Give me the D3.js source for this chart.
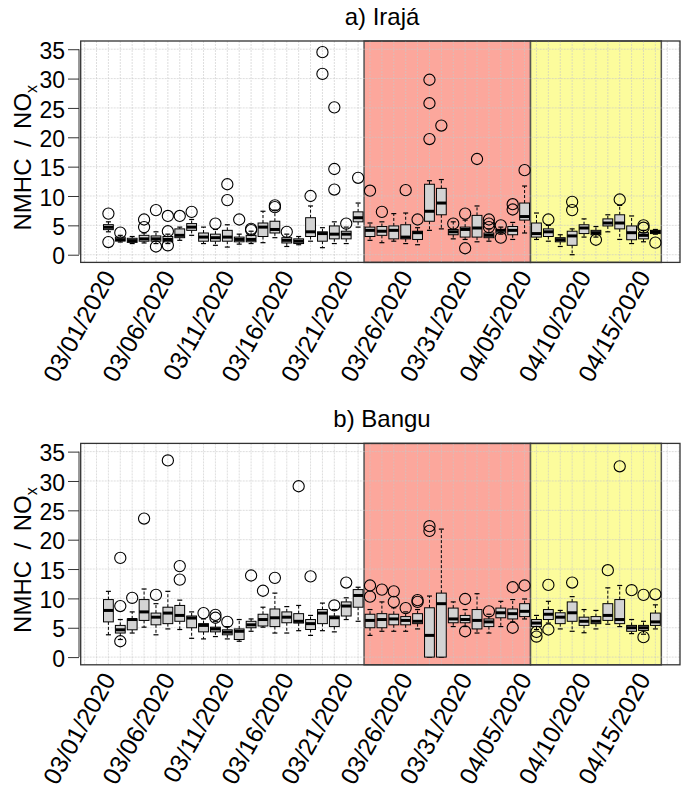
<!DOCTYPE html>
<html><head><meta charset="utf-8">
<script src="https://cdn.jsdelivr.net/npm/d3@7"></script>
<style>body{margin:0;background:#fff}svg{display:block}text{font-family:"Liberation Sans",Arial,sans-serif;fill:#000}</style>
</head><body><svg id="c" width="689" height="793"></svg>
<script>
const days = ["03/01","03/02","03/03","03/04","03/05","03/06","03/07","03/08","03/09","03/10","03/11","03/12","03/13","03/14","03/15","03/16","03/17","03/18","03/19","03/20","03/21","03/22","03/23","03/24","03/25","03/26","03/27","03/28","03/29","03/30","03/31","04/01","04/02","04/03","04/04","04/05","04/06","04/07","04/08","04/09","04/10","04/11","04/12","04/13","04/14","04/15","04/16"];
const tickLabels = ["03/01/2020","03/06/2020","03/11/2020","03/16/2020","03/21/2020","03/26/2020","03/31/2020","04/05/2020","04/10/2020","04/15/2020"];
const tickIdx = [0,5,10,15,20,25,30,35,40,45];
const yTicks = [0,5,10,15,20,25,30,35];
const redPeriod = [21.5, 35.5];
const yellowPeriod = [35.5, 46.5];

// Panel a) Irajá
const lowA  = [3.9,2.16,1.9,2.0,1.9,1.9,2.45,3.3,1.9,1.6,1.3,1.8,1.9,2.05,2.9,1.4,1.7,2.3,1.2,1.9,1.9,4.7, 2.45,2.05,2.3,1.9,1.7,4.15,4.4,2.7,2.6,2.2,2.3,3.5,2.6,3.7, 2.6,2.3,1.4,0.0,3.0,3.0,3.9,2.6,1.9,2.2,3.5];
const q1A   = [4.27,2.33,2.1,2.3,2.3,2.2,2.9,4.15,2.3,2.3,2.3,2.2,2.2,3.1,3.7,2.0,1.9,3.1,2.3,2.7,2.7,5.6, 3.1,3.3,2.7,2.7,2.6,5.7,6.8,3.4,3.0,3.0,2.9,3.7,3.4,5.9, 3.0,3.1,2.2,1.6,3.6,3.4,4.9,4.4,2.55,2.7,3.6];
const medA  = [4.67,2.56,2.4,2.7,2.7,2.6,3.3,4.7,3.0,2.9,3.0,2.6,2.6,4.7,4.3,2.45,2.3,3.9,3.6,3.5,3.5,6.3, 4.15,4.0,4.15,3.0,3.75,7.4,8.8,3.9,4.3,4.55,3.3,4.15,4.15,6.5, 3.6,3.9,2.55,3.2,4.55,3.75,5.4,5.4,3.75,3.3,3.9];
const q3A   = [5.12,3.0,2.8,3.3,3.2,3.1,4.4,5.3,3.7,3.5,4.15,3.0,3.3,5.4,5.7,2.9,2.7,6.3,3.9,4.9,4.0,7.3, 4.7,4.8,4.9,5.1,4.0,12.0,11.3,4.3,4.7,6.7,3.7,4.3,4.8,8.8, 5.4,4.4,2.9,4.0,5.1,4.15,6.1,6.8,4.9,3.75,4.15];
const highA = [5.6,3.3,3.1,3.7,3.9,3.5,4.7,6.0,4.7,4.3,5.1,3.5,4.0,7.4,7.6,3.5,3.1,8.3,4.6,5.6,4.7,8.8, 5.4,5.6,7.0,7.1,4.6,12.6,12.8,5.6,5.9,8.3,4.4,4.7,5.5,11.7, 7.1,5.0,3.4,4.4,6.1,4.8,6.8,8.4,6.6,4.15,4.3];
const outA  = [[7.0,2.16],[3.76],[],[6.0,4.7],[7.6,1.4],[6.6,4.0,1.6],[6.6],[7.3],[],[5.3],[12.0,9.3],[6.0],[4.4,4.2],[],[8.4,8.1],[3.9],[],[10.0],[34.5,30.8],[25.1,14.6,11.1],[5.3],[13.1],
  [10.9],[7.3],[],[11.0],[6.0],[29.8,25.8,19.7],[22.0],[5.3],[7.0,1.1],[16.3],[6.0,5.3,4.7],[5.0,2.9],[8.6,7.7],[14.4],
  [],[6.0],[],[9.0,7.6],[],[2.55],[],[9.4],[],[5.0,4.6],[2.05]];

// Panel b) Bangu
const lowB  = [3.8,3.0,4.1,5.1,3.8,4.8,4.7,3.2,3.1,3.5,3.1,2.7,4.4,5.1,4.1,4.1,4.5,3.7,4.5,4.3,6.4,6.1, 3.7,4.4,4.4,4.4,4.8,0.0,0.0,5.2,5.2,4.1,4.1,5.2,6.0,6.5, 4.7,5.8,4.8,4.4,4.15,4.8,5.6,5.2,4.0,3.9,4.8];
const q1B   = [6.0,4.1,4.65,6.25,5.5,5.7,6.1,5.0,4.3,4.3,3.8,3.0,5.0,5.3,5.2,5.85,5.8,4.7,5.7,5.2,7.0,8.5, 5.0,5.0,5.5,5.5,5.7,0.0,0.0,5.85,5.85,4.8,5.2,6.7,6.5,6.9, 5.2,6.4,5.7,6.1,5.4,5.7,6.25,5.7,4.4,4.55,5.4];
const medB  = [7.95,4.65,6.4,7.7,6.8,7.5,7.1,6.65,5.4,4.8,4.25,4.4,5.5,6.4,6.7,6.8,6.1,5.7,7.5,6.7,8.7,10.5, 6.25,6.4,6.5,6.25,6.1,3.7,9.1,6.5,6.4,6.25,6.0,7.55,7.4,7.8, 5.8,7.3,6.8,7.55,6.1,6.1,7.1,6.4,5.0,5.0,6.0];
const q3B   = [9.8,5.4,6.5,9.8,7.5,8.5,8.8,7.0,5.7,5.1,4.65,4.8,6.1,7.3,8.2,7.7,7.4,6.4,8.1,7.0,9.4,11.5, 7.3,7.4,7.3,6.9,7.4,8.4,10.9,8.35,7.1,8.1,6.5,8.35,8.2,9.1, 6.4,8.1,7.55,9.4,6.8,6.9,9.1,9.8,5.4,5.4,7.5];
const highB = [11.2,6.4,7.7,11.6,9.1,11.2,9.7,7.7,6.5,6.1,5.2,6.4,6.5,8.5,10.9,8.6,8.8,7.1,9.2,8.1,10.1,11.9, 8.1,9.4,8.4,7.7,8.1,10.4,21.8,9.4,8.1,10.8,7.3,9.5,9.8,9.9, 7.1,9.5,7.95,10.3,8.1,7.95,11.8,12.2,6.4,6.1,8.9];
const outB  = [[],[16.9,8.7,2.7],[10.1],[23.6],[10.6],[33.5],[15.5,13.2],[],[7.5],[7.2,6.7],[6.0],[],[13.9],[11.3],[13.5],[],[29.1],[13.75],[],[8.8],[12.7],[],
  [12.2,10.3],[11.5],[11.2,9.4],[8.35],[9.7,9.4],[22.3,21.5],[],[],[9.9,4.4],[],[7.8],[],[11.9,5.0],[12.2],
  [4.3,3.5],[12.3,4.7],[],[12.7],[],[],[14.8],[32.5],[11.4],[10.6,3.4],[10.7]];

const svg = d3.select("#c");
const x = d3.scaleLinear().domain([-2.33, 48.07]).range([80.7, 680]);
const boxW = 9.8, capW = 5, rOut = 5.6;

function panel(top, title, low, q1, med, q3, high, outs) {
  const plotTop = top, plotBot = top + 221.4;
  const y = d3.scaleLinear().domain([-1.31, 36.4]).range([plotBot, plotTop]);
  const g = svg.append("g");
  g.append("text").attr("x", 382).attr("y", plotTop - 16).attr("text-anchor", "middle")
    .attr("font-size", 24).text(title);
  // periods
  g.append("rect").attr("x", x(redPeriod[0])).attr("y", plotTop).attr("width", x(redPeriod[1]) - x(redPeriod[0]))
    .attr("height", plotBot - plotTop).attr("fill", "#fca79c").attr("stroke", "#555").attr("stroke-width", 1.5);
  g.append("rect").attr("x", x(yellowPeriod[0])).attr("y", plotTop).attr("width", x(yellowPeriod[1]) - x(yellowPeriod[0]))
    .attr("height", plotBot - plotTop).attr("fill", "#fcfc9c").attr("stroke", "#555").attr("stroke-width", 1.5);
  // grid
  const gx = d3.range(-2, 49);
  g.append("g").selectAll("line").data(gx).join("line")
    .attr("x1", d => x(d)).attr("x2", d => x(d)).attr("y1", plotTop).attr("y2", plotBot)
    .attr("stroke", "#c8c8c8").attr("stroke-opacity", 0.6).attr("stroke-width", 1).attr("stroke-dasharray", "2,1");
  g.append("g").selectAll("line").data(yTicks).join("line")
    .attr("x1", x.range()[0]).attr("x2", x.range()[1]).attr("y1", d => y(d)).attr("y2", d => y(d))
    .attr("stroke", "#c8c8c8").attr("stroke-opacity", 0.6).attr("stroke-width", 1).attr("stroke-dasharray", "2,1");
  // boxes
  const idx = d3.range(days.length);
  const bx = g.append("g").selectAll("g").data(idx).join("g");
  bx.append("line").attr("x1", i => x(i)).attr("x2", i => x(i)).attr("y1", i => y(q3[i])).attr("y2", i => y(high[i]))
    .attr("stroke", "#000").attr("stroke-width", 1).attr("stroke-dasharray", "3,2");
  bx.append("line").attr("x1", i => x(i)).attr("x2", i => x(i)).attr("y1", i => y(q1[i])).attr("y2", i => y(low[i]))
    .attr("stroke", "#000").attr("stroke-width", 1).attr("stroke-dasharray", "3,2");
  bx.append("line").attr("x1", i => x(i) - capW / 2).attr("x2", i => x(i) + capW / 2).attr("y1", i => y(high[i])).attr("y2", i => y(high[i]))
    .attr("stroke", "#000").attr("stroke-width", 1.2);
  bx.append("line").attr("x1", i => x(i) - capW / 2).attr("x2", i => x(i) + capW / 2).attr("y1", i => y(low[i])).attr("y2", i => y(low[i]))
    .attr("stroke", "#000").attr("stroke-width", 1.2);
  bx.append("rect").attr("x", i => x(i) - boxW / 2).attr("width", boxW)
    .attr("y", i => y(q3[i])).attr("height", i => Math.max(1, y(q1[i]) - y(q3[i])))
    .attr("fill", "#d3d3d3").attr("stroke", "#000").attr("stroke-width", 1);
  bx.append("line").attr("x1", i => x(i) - boxW / 2).attr("x2", i => x(i) + boxW / 2).attr("y1", i => y(med[i])).attr("y2", i => y(med[i]))
    .attr("stroke", "#000").attr("stroke-width", 3);
  bx.selectAll("circle").data(i => outs[i].map(v => [i, v])).join("circle")
    .attr("cx", d => x(d[0])).attr("cy", d => y(d[1])).attr("r", rOut)
    .attr("fill", "none").attr("stroke", "#000").attr("stroke-width", 1.1);
  // frame
  g.append("rect").attr("x", x.range()[0]).attr("y", plotTop).attr("width", x.range()[1] - x.range()[0])
    .attr("height", plotBot - plotTop).attr("fill", "none").attr("stroke", "#333").attr("stroke-width", 1.3);
  // y axis
  const ya = g.append("g").attr("transform", "translate(79,0)")
    .call(d3.axisLeft(y).tickValues(yTicks).tickSize(11).tickPadding(3).tickFormat(d3.format("d")));
  ya.select(".domain").attr("d", `M0,${y(35)}V${y(0)}`).attr("stroke", "#333");
  ya.selectAll(".tick line").attr("stroke", "#333");
  ya.selectAll(".tick text").attr("font-size", 23).attr("fill", "#000").attr("dy", "0.4em")
    .style("font-family", '"Liberation Sans",Arial,sans-serif');
  // y label
  const yl = g.append("text").attr("transform", `translate(31,${(plotTop + plotBot) / 2 + 6}) rotate(-90)`)
    .attr("text-anchor", "middle").attr("font-size", 24);
  yl.append("tspan").text("NMHC \u2009/\u2009 NO");
  yl.append("tspan").attr("font-size", 16).attr("dy", 6).text("x");
  // x labels
  g.append("g").selectAll("text").data(tickIdx).join("text")
    .attr("transform", (d) => `translate(${x(d) + 0.5},${plotBot + 10}) rotate(-61)`)
    .attr("text-anchor", "end").attr("dominant-baseline", "central").attr("font-size", 24.5)
    .text((d, k) => tickLabels[k]);
}

panel(41, "a) Irajá", lowA, q1A, medA, q3A, highA, outA);
panel(443.4, "b) Bangu", lowB, q1B, medB, q3B, highB, outB);
</script></body></html>
